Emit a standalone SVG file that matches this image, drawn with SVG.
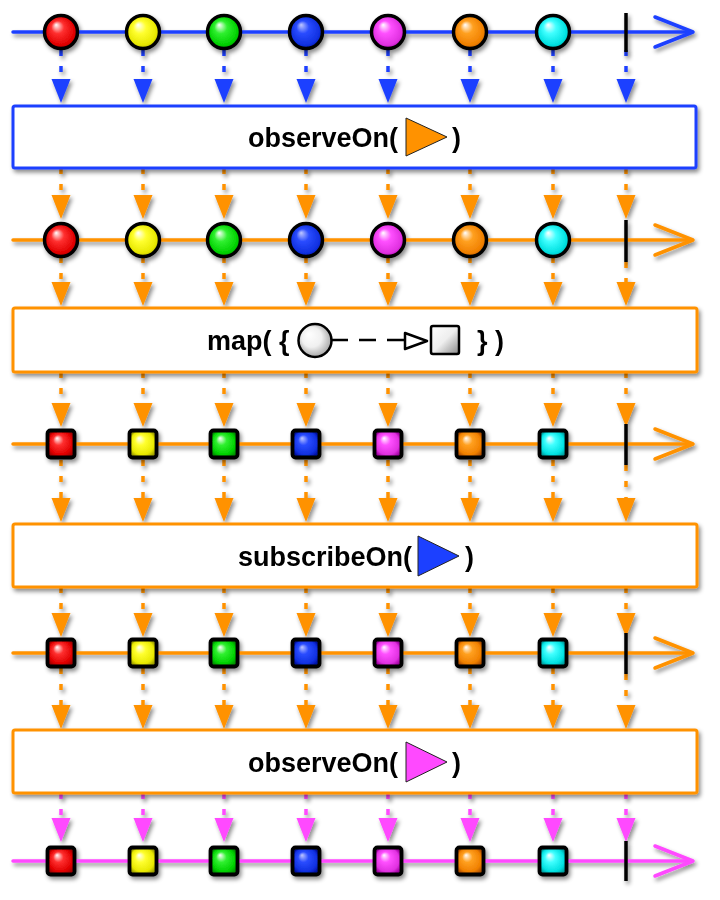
<svg xmlns="http://www.w3.org/2000/svg" width="720" height="900" viewBox="0 0 720 900">
<defs>
<filter id="sh" filterUnits="userSpaceOnUse" x="0" y="0" width="720" height="900"><feDropShadow dx="2" dy="3" stdDeviation="2" flood-color="#000" flood-opacity="0.45"/></filter>
<radialGradient id="gR" cx="0.5" cy="0.5" r="0.55" fx="0.35" fy="0.28"><stop offset="0" stop-color="#fff"/><stop offset="0.35" stop-color="#ff3030"/><stop offset="0.8" stop-color="#e00000"/><stop offset="1" stop-color="#a00000"/></radialGradient>
<radialGradient id="gY" cx="0.5" cy="0.5" r="0.55" fx="0.35" fy="0.28"><stop offset="0" stop-color="#fff"/><stop offset="0.35" stop-color="#ffff30"/><stop offset="0.8" stop-color="#e8e800"/><stop offset="1" stop-color="#a0a000"/></radialGradient>
<radialGradient id="gG" cx="0.5" cy="0.5" r="0.55" fx="0.35" fy="0.28"><stop offset="0" stop-color="#fff"/><stop offset="0.35" stop-color="#30f030"/><stop offset="0.8" stop-color="#00d000"/><stop offset="1" stop-color="#009000"/></radialGradient>
<radialGradient id="gB" cx="0.5" cy="0.5" r="0.55" fx="0.35" fy="0.28"><stop offset="0" stop-color="#c0c8ff"/><stop offset="0.35" stop-color="#2a4cff"/><stop offset="0.8" stop-color="#1030e0"/><stop offset="1" stop-color="#0010a0"/></radialGradient>
<radialGradient id="gM" cx="0.5" cy="0.5" r="0.55" fx="0.35" fy="0.28"><stop offset="0" stop-color="#fff"/><stop offset="0.35" stop-color="#ff50ff"/><stop offset="0.8" stop-color="#e030e0"/><stop offset="1" stop-color="#a000a0"/></radialGradient>
<radialGradient id="gO" cx="0.5" cy="0.5" r="0.55" fx="0.35" fy="0.28"><stop offset="0" stop-color="#fff"/><stop offset="0.35" stop-color="#ffa020"/><stop offset="0.8" stop-color="#f08000"/><stop offset="1" stop-color="#b05000"/></radialGradient>
<radialGradient id="gC" cx="0.5" cy="0.5" r="0.55" fx="0.35" fy="0.28"><stop offset="0" stop-color="#fff"/><stop offset="0.35" stop-color="#40ffff"/><stop offset="0.8" stop-color="#00e0e0"/><stop offset="1" stop-color="#00a0a0"/></radialGradient>
<radialGradient id="gW" cx="0.5" cy="0.5" r="0.6" fx="0.3" fy="0.3"><stop offset="0" stop-color="#fff"/><stop offset="0.5" stop-color="#f0f0f0"/><stop offset="1" stop-color="#909090"/></radialGradient>
<linearGradient id="gS" x1="0" y1="0" x2="1" y2="1"><stop offset="0" stop-color="#fff"/><stop offset="0.5" stop-color="#eee"/><stop offset="1" stop-color="#888"/></linearGradient>
<path id="tri" d="M-9.5,0 L9.5,0 L0,24 Z"/>
<circle id="ball" r="16.5"/>
<rect id="sqr" x="-13.5" y="-13.5" width="27" height="27" rx="3"/>
</defs>
<style>
.ln{fill:none;stroke-width:3.5;stroke-linecap:round;stroke-linejoin:round}
.blue{stroke:#1f40ff}.org{stroke:#ff9200}.mag{stroke:#ff48ff}
.fb{fill:#1f40ff}.fo{fill:#ff9200}.fm{fill:#ff48ff}
.dash{stroke-width:3.5;stroke-dasharray:6 10}
.ball{stroke:#000;stroke-width:3.5}
.sq{stroke:#000;stroke-width:3.8}
.box{fill:#fff;stroke-width:3}
.lbl{font-family:"Liberation Sans",Arial,Helvetica,sans-serif;font-weight:bold;font-size:27px;fill:#000}
.end{stroke:#000;stroke-width:3.5}
.icon{stroke:#222;stroke-width:1}
</style>
<rect width="720" height="900" fill="#fff"/>

<g id="connectors" filter="url(#sh)">
<g class="blue dash">
<line x1="61" y1="50" x2="61" y2="79"/><line x1="143" y1="50" x2="143" y2="79"/><line x1="224" y1="50" x2="224" y2="79"/><line x1="306" y1="50" x2="306" y2="79"/><line x1="388" y1="50" x2="388" y2="79"/><line x1="470" y1="50" x2="470" y2="79"/><line x1="553" y1="50" x2="553" y2="79"/><line x1="626" y1="50" x2="626" y2="79"/>
</g>
<g class="fb">
<use href="#tri" x="61" y="79"/><use href="#tri" x="143" y="79"/><use href="#tri" x="224" y="79"/><use href="#tri" x="306" y="79"/><use href="#tri" x="388" y="79"/><use href="#tri" x="470" y="79"/><use href="#tri" x="553" y="79"/><use href="#tri" x="626" y="79"/>
</g>
<g class="org dash">
<line x1="61" y1="168" x2="61" y2="195"/><line x1="143" y1="168" x2="143" y2="195"/><line x1="224" y1="168" x2="224" y2="195"/><line x1="306" y1="168" x2="306" y2="195"/><line x1="388" y1="168" x2="388" y2="195"/><line x1="470" y1="168" x2="470" y2="195"/><line x1="553" y1="168" x2="553" y2="195"/><line x1="626" y1="168" x2="626" y2="195"/>
<line x1="61" y1="257" x2="61" y2="282"/><line x1="143" y1="257" x2="143" y2="282"/><line x1="224" y1="257" x2="224" y2="282"/><line x1="306" y1="257" x2="306" y2="282"/><line x1="388" y1="257" x2="388" y2="282"/><line x1="470" y1="257" x2="470" y2="282"/><line x1="553" y1="257" x2="553" y2="282"/><line x1="626" y1="262" x2="626" y2="282"/>
<line x1="61" y1="372" x2="61" y2="403"/><line x1="143" y1="372" x2="143" y2="403"/><line x1="224" y1="372" x2="224" y2="403"/><line x1="306" y1="372" x2="306" y2="403"/><line x1="388" y1="372" x2="388" y2="403"/><line x1="470" y1="372" x2="470" y2="403"/><line x1="553" y1="372" x2="553" y2="403"/><line x1="626" y1="372" x2="626" y2="403"/>
<line x1="61" y1="460" x2="61" y2="498"/><line x1="143" y1="460" x2="143" y2="498"/><line x1="224" y1="460" x2="224" y2="498"/><line x1="306" y1="460" x2="306" y2="498"/><line x1="388" y1="460" x2="388" y2="498"/><line x1="470" y1="460" x2="470" y2="498"/><line x1="553" y1="460" x2="553" y2="498"/><line x1="626" y1="465" x2="626" y2="498"/>
<line x1="61" y1="587" x2="61" y2="613"/><line x1="143" y1="587" x2="143" y2="613"/><line x1="224" y1="587" x2="224" y2="613"/><line x1="306" y1="587" x2="306" y2="613"/><line x1="388" y1="587" x2="388" y2="613"/><line x1="470" y1="587" x2="470" y2="613"/><line x1="553" y1="587" x2="553" y2="613"/><line x1="626" y1="587" x2="626" y2="613"/>
<line x1="61" y1="668" x2="61" y2="705"/><line x1="143" y1="668" x2="143" y2="705"/><line x1="224" y1="668" x2="224" y2="705"/><line x1="306" y1="668" x2="306" y2="705"/><line x1="388" y1="668" x2="388" y2="705"/><line x1="470" y1="668" x2="470" y2="705"/><line x1="553" y1="668" x2="553" y2="705"/><line x1="626" y1="674" x2="626" y2="705"/>
</g>
<g class="fo">
<use href="#tri" x="61" y="195"/><use href="#tri" x="143" y="195"/><use href="#tri" x="224" y="195"/><use href="#tri" x="306" y="195"/><use href="#tri" x="388" y="195"/><use href="#tri" x="470" y="195"/><use href="#tri" x="553" y="195"/><use href="#tri" x="626" y="195"/>
<use href="#tri" x="61" y="282"/><use href="#tri" x="143" y="282"/><use href="#tri" x="224" y="282"/><use href="#tri" x="306" y="282"/><use href="#tri" x="388" y="282"/><use href="#tri" x="470" y="282"/><use href="#tri" x="553" y="282"/><use href="#tri" x="626" y="282"/>
<use href="#tri" x="61" y="403"/><use href="#tri" x="143" y="403"/><use href="#tri" x="224" y="403"/><use href="#tri" x="306" y="403"/><use href="#tri" x="388" y="403"/><use href="#tri" x="470" y="403"/><use href="#tri" x="553" y="403"/><use href="#tri" x="626" y="403"/>
<use href="#tri" x="61" y="498"/><use href="#tri" x="143" y="498"/><use href="#tri" x="224" y="498"/><use href="#tri" x="306" y="498"/><use href="#tri" x="388" y="498"/><use href="#tri" x="470" y="498"/><use href="#tri" x="553" y="498"/><use href="#tri" x="626" y="498"/>
<use href="#tri" x="61" y="613"/><use href="#tri" x="143" y="613"/><use href="#tri" x="224" y="613"/><use href="#tri" x="306" y="613"/><use href="#tri" x="388" y="613"/><use href="#tri" x="470" y="613"/><use href="#tri" x="553" y="613"/><use href="#tri" x="626" y="613"/>
<use href="#tri" x="61" y="705"/><use href="#tri" x="143" y="705"/><use href="#tri" x="224" y="705"/><use href="#tri" x="306" y="705"/><use href="#tri" x="388" y="705"/><use href="#tri" x="470" y="705"/><use href="#tri" x="553" y="705"/><use href="#tri" x="626" y="705"/>
</g>
<g class="mag dash">
<line x1="61" y1="793" x2="61" y2="818"/><line x1="143" y1="793" x2="143" y2="818"/><line x1="224" y1="793" x2="224" y2="818"/><line x1="306" y1="793" x2="306" y2="818"/><line x1="388" y1="793" x2="388" y2="818"/><line x1="470" y1="793" x2="470" y2="818"/><line x1="553" y1="793" x2="553" y2="818"/><line x1="626" y1="793" x2="626" y2="818"/>
</g>
<g class="fm">
<use href="#tri" x="61" y="818"/><use href="#tri" x="143" y="818"/><use href="#tri" x="224" y="818"/><use href="#tri" x="306" y="818"/><use href="#tri" x="388" y="818"/><use href="#tri" x="470" y="818"/><use href="#tri" x="553" y="818"/><use href="#tri" x="626" y="818"/>
</g>
</g>

<g id="stream1" filter="url(#sh)">
<line class="ln blue" x1="13" y1="32" x2="690" y2="32"/>
<path class="ln blue" d="M655,17 L693,32 L655,47"/>
<g class="ball">
<use href="#ball" x="61" y="32" fill="url(#gR)"/><use href="#ball" x="143" y="32" fill="url(#gY)"/><use href="#ball" x="224" y="32" fill="url(#gG)"/><use href="#ball" x="306" y="32" fill="url(#gB)"/><use href="#ball" x="388" y="32" fill="url(#gM)"/><use href="#ball" x="470" y="32" fill="url(#gO)"/><use href="#ball" x="553" y="32" fill="url(#gC)"/>
</g>
<line class="end" x1="626" y1="13" x2="626" y2="52"/>
</g>

<g id="box1" filter="url(#sh)">
<rect class="box blue" x="13" y="106" width="683" height="62" rx="2"/>
<text class="lbl" x="248" y="147">observeOn(</text>
<polygon class="icon" points="406,118 447,137 406,156" fill="#ff9200"/>
<text class="lbl" x="452" y="147">)</text>
</g>

<g id="stream2" filter="url(#sh)">
<line class="ln org" x1="13" y1="240" x2="690" y2="240"/>
<path class="ln org" d="M655,225 L693,240 L655,255"/>
<g class="ball">
<use href="#ball" x="61" y="240" fill="url(#gR)"/><use href="#ball" x="143" y="240" fill="url(#gY)"/><use href="#ball" x="224" y="240" fill="url(#gG)"/><use href="#ball" x="306" y="240" fill="url(#gB)"/><use href="#ball" x="388" y="240" fill="url(#gM)"/><use href="#ball" x="470" y="240" fill="url(#gO)"/><use href="#ball" x="553" y="240" fill="url(#gC)"/>
</g>
<line class="end" x1="626" y1="220" x2="626" y2="262"/>
</g>

<g id="box2" filter="url(#sh)">
<rect class="box org" x="13" y="308" width="684" height="64" rx="2"/>
<text class="lbl" x="207" y="350">map( {</text>
<circle cx="315" cy="340.5" r="16.5" fill="url(#gW)" stroke="#000" stroke-width="2.5"/>
<path d="M332,340 H348 M359,340 H376 M387,340 H405" stroke="#000" stroke-width="2.5" fill="none"/>
<polygon points="405,333 427,341 405,349" fill="#fff" stroke="#000" stroke-width="2.5" stroke-linejoin="round"/>
<rect x="431" y="326" width="28" height="28" rx="2" fill="url(#gS)" stroke="#000" stroke-width="2.5"/>
<text class="lbl" x="477" y="350">} )</text>
</g>

<g id="stream3" filter="url(#sh)">
<line class="ln org" x1="13" y1="444" x2="690" y2="444"/>
<path class="ln org" d="M655,429 L693,444 L655,459"/>
<g class="sq">
<use href="#sqr" x="61" y="444" fill="url(#gR)"/><use href="#sqr" x="143" y="444" fill="url(#gY)"/><use href="#sqr" x="224" y="444" fill="url(#gG)"/><use href="#sqr" x="306" y="444" fill="url(#gB)"/><use href="#sqr" x="388" y="444" fill="url(#gM)"/><use href="#sqr" x="470" y="444" fill="url(#gO)"/><use href="#sqr" x="553" y="444" fill="url(#gC)"/>
</g>
<line class="end" x1="626" y1="424" x2="626" y2="465"/>
</g>

<g id="box3" filter="url(#sh)">
<rect class="box org" x="13" y="524" width="684" height="63" rx="2"/>
<text class="lbl" x="238" y="566">subscribeOn(</text>
<polygon class="icon" points="418,536 459,556 418,576" fill="#1f40ff"/>
<text class="lbl" x="465" y="566">)</text>
</g>

<g id="stream4" filter="url(#sh)">
<line class="ln org" x1="13" y1="653" x2="690" y2="653"/>
<path class="ln org" d="M655,638 L693,653 L655,668"/>
<g class="sq">
<use href="#sqr" x="61" y="653" fill="url(#gR)"/><use href="#sqr" x="143" y="653" fill="url(#gY)"/><use href="#sqr" x="224" y="653" fill="url(#gG)"/><use href="#sqr" x="306" y="653" fill="url(#gB)"/><use href="#sqr" x="388" y="653" fill="url(#gM)"/><use href="#sqr" x="470" y="653" fill="url(#gO)"/><use href="#sqr" x="553" y="653" fill="url(#gC)"/>
</g>
<line class="end" x1="626" y1="633" x2="626" y2="674"/>
</g>

<g id="box4" filter="url(#sh)">
<rect class="box org" x="13" y="730" width="684" height="63" rx="2"/>
<text class="lbl" x="248" y="772">observeOn(</text>
<polygon class="icon" points="406,742 447,762 406,782" fill="#ff48ff"/>
<text class="lbl" x="452" y="772">)</text>
</g>

<g id="stream5" filter="url(#sh)">
<line class="ln mag" x1="13" y1="861" x2="690" y2="861"/>
<path class="ln mag" d="M655,846 L693,861 L655,876"/>
<g class="sq">
<use href="#sqr" x="61" y="861" fill="url(#gR)"/><use href="#sqr" x="143" y="861" fill="url(#gY)"/><use href="#sqr" x="224" y="861" fill="url(#gG)"/><use href="#sqr" x="306" y="861" fill="url(#gB)"/><use href="#sqr" x="388" y="861" fill="url(#gM)"/><use href="#sqr" x="470" y="861" fill="url(#gO)"/><use href="#sqr" x="553" y="861" fill="url(#gC)"/>
</g>
<line class="end" x1="626" y1="841" x2="626" y2="881"/>
</g>
</svg>
